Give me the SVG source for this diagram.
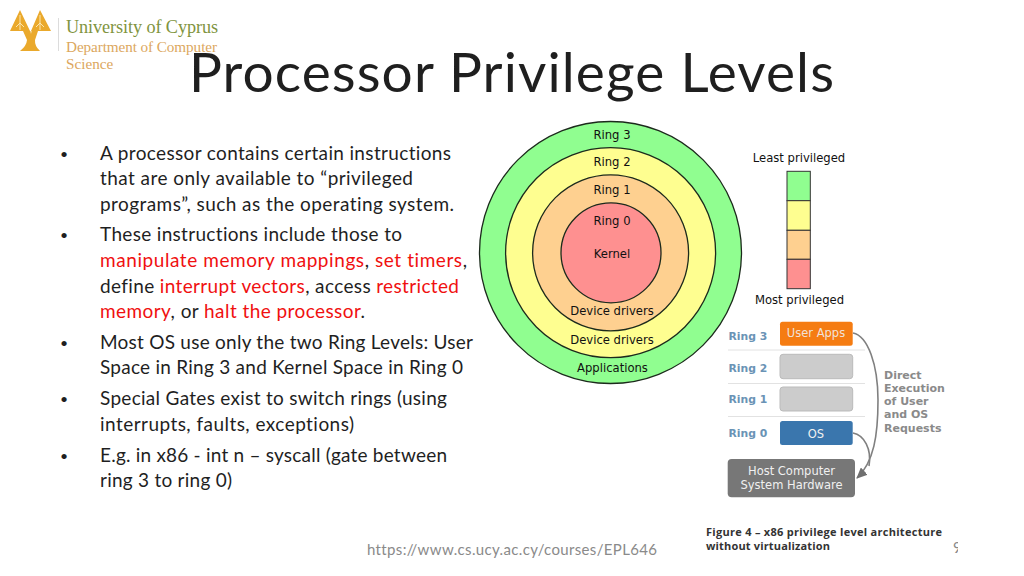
<svg xmlns="http://www.w3.org/2000/svg" width="1024" height="576" viewBox="0 0 1024 576">
<style>
.t{font-family:"Lato","Liberation Sans",sans-serif;fill:#1f1f1f;font-variant-ligatures:none}
.b{font-size:19px}
.r{fill:#f01010}
.d{font-family:"DejaVu Sans",sans-serif;fill:#111;font-size:11.6px;text-anchor:middle}
.c{stroke:#1c2a1c;stroke-width:1.3}
.k{stroke:#333;stroke-width:1}
.ring{font-family:"DejaVu Sans",sans-serif;font-weight:700;font-size:10.8px;fill:#6a93b5}
.line{stroke:#e2e2e2;stroke-width:1}
.w{font-family:"DejaVu Sans",sans-serif;font-size:11.5px;fill:#f0f0f0;text-anchor:middle}
.g{font-family:"DejaVu Sans",sans-serif;font-weight:700;font-size:11px;fill:#8a8a8a}
.cap{font-family:"Open Sans",sans-serif;font-weight:700;font-size:11px;fill:#333}
.arr{fill:none;stroke:#808080;stroke-width:1.6}
</style>
<defs>
<marker id="ah" markerWidth="12" markerHeight="10" refX="10" refY="5" orient="auto" markerUnits="userSpaceOnUse"><path d="M0,0L11,5L0,10Z" fill="#6f6f6f"/></marker>
<clipPath id="nine"><rect x="950" y="535" width="8" height="25"/></clipPath>
</defs>
<rect width="1024" height="576" fill="#fff"/>
<g id="logo">
<path d="M20,10L30,31H10ZM40,10L51,31H31Z" fill="#eaa92c"/>
<path d="M23,31H30.500L31,34L31.500,31H38L35,40Q34.500,46 40,51H20Q26.500,46 27,40Z" fill="#eaa92c"/>
<path d="M20,15V30M40,15V30M20,23L16,27M20,23L24,27M40,23L36,27M40,23L44,27" stroke="#fbe6b0" stroke-width="1" fill="none"/>
<line x1="58.500" y1="18" x2="58.500" y2="51" stroke="#dcdcdc"/>
<text x="66" y="33" font-family="Liberation Serif,serif" font-size="18.200px" textLength="152" fill="#7f9440">University of Cyprus</text>
<text x="66" y="52" font-family="Liberation Serif,serif" font-size="15.200px" textLength="151" fill="#dca75e">Department of Computer</text>
<text x="66" y="69" font-family="Liberation Serif,serif" font-size="15.200px" fill="#dca75e">Science</text>
</g>
<text class="t" x="189" y="92" font-size="55px" textLength="645" fill="#111">Processor Privilege Levels</text>
<g id="bullets" class="t b">
<text x="60" y="159" style="font-size:14px">•</text><text x="60" y="240" style="font-size:14px">•</text><text x="60" y="348" style="font-size:14px">•</text><text x="60" y="404" style="font-size:14px">•</text><text x="60" y="461" style="font-size:14px">•</text>
<text x="100" y="160" textLength="351">A processor contains certain instructions</text>
<text x="100" y="185" textLength="313">that are only available to “privileged</text>
<text x="100" y="211" textLength="354">programs”, such as the operating system.</text>
<text x="100" y="241" textLength="302">These instructions include those to</text>
<text x="100" y="267" textLength="367"><tspan class="r">manipulate memory mappings</tspan>, <tspan class="r">set timers</tspan>,</text>
<text x="100" y="293" textLength="359">define <tspan class="r">interrupt vectors</tspan>, access <tspan class="r">restricted</tspan></text>
<text x="100" y="318" textLength="265"><tspan class="r">memory</tspan>, or <tspan class="r">halt the processor</tspan>.</text>
<text x="100" y="349" textLength="373">Most OS use only the two Ring Levels: User</text>
<text x="100" y="374" textLength="363">Space in Ring 3 and Kernel Space in Ring 0</text>
<text x="100" y="405" textLength="347">Special Gates exist to switch rings (using</text>
<text x="100" y="431" textLength="254">interrupts, faults, exceptions)</text>
<text x="100" y="462" textLength="347">E.g. in x86 - int n – syscall (gate between</text>
<text x="100" y="487" textLength="132">ring 3 to ring 0)</text>
</g>
<g id="ring3"><circle class="c" cx="610.500" cy="252.500" r="131" fill="#90fe90"/><text class="d" x="612" y="139">Ring 3</text><text class="d" x="612.500" y="372">Applications</text></g>
<g id="ring2"><circle class="c" cx="610.600" cy="252.700" r="105" fill="#fefe90"/><text class="d" x="612" y="166">Ring 2</text><text class="d" x="612" y="344">Device drivers</text></g>
<g id="ring1"><circle class="c" cx="610.600" cy="252.800" r="78" fill="#fed090"/><text class="d" x="612" y="194">Ring 1</text><text class="d" x="612" y="315">Device drivers</text></g>
<g id="ring0"><circle class="c" cx="611" cy="252.800" r="50" fill="#fe9090"/><text class="d" x="612" y="225">Ring 0</text><text class="d" x="612" y="258">Kernel</text></g>
<g id="legend">
<text class="d" x="799" y="162">Least privileged</text>
<rect class="k" x="787" y="171.300" width="23.300" height="29.400" fill="#90fe90"/>
<rect class="k" x="787" y="200.700" width="23.300" height="29.600" fill="#fefe90"/>
<rect class="k" x="787" y="230.300" width="23.300" height="29" fill="#fed090"/>
<rect class="k" x="787" y="259.300" width="23.300" height="29.400" fill="#fe9090"/>
<text class="d" x="799.500" y="304">Most privileged</text>
</g>
<g id="rows">
<line class="line" x1="728" y1="350" x2="865" y2="350"/><line class="line" x1="728" y1="383.500" x2="865" y2="383.500"/><line class="line" x1="728" y1="416.500" x2="865" y2="416.500"/>
<text class="ring" x="728.500" y="340">Ring 3</text><text class="ring" x="728.500" y="372">Ring 2</text><text class="ring" x="728.500" y="403">Ring 1</text><text class="ring" x="728.500" y="437">Ring 0</text>
</g>
<g id="user-apps"><rect x="780" y="321.700" width="72.700" height="24" rx="2.500" fill="#f57c12"/><text class="w" x="816" y="337" fill-opacity=".9">User Apps</text></g>
<g id="gray-2"><rect x="780" y="354.300" width="72.700" height="24.400" rx="3" fill="#cccccc" stroke="#bbb"/></g>
<g id="gray-1"><rect x="780" y="387" width="72.700" height="24" rx="3" fill="#cccccc" stroke="#bbb"/></g>
<g id="os"><rect x="780" y="421" width="72.700" height="24" rx="2.500" fill="#3a76ad"/><text class="w" x="816" y="437.500">OS</text></g>
<g id="host"><rect x="727.700" y="459" width="127.300" height="38.300" rx="4" fill="#777"/><text class="w" x="791.500" y="475">Host Computer</text><text class="w" x="791.500" y="489">System Hardware</text></g>
<g id="connectors">
<path class="arr" d="M853,333C868,336 878,365 878,400C878,435 874,462 857,478" marker-end="url(#ah)"/>
<path class="arr" d="M853,433C864,435 872,449 869,466"/>
</g>
<g id="direct" class="g"><text x="884" y="379">Direct</text><text x="884" y="392">Execution</text><text x="884" y="405">of User</text><text x="884" y="418">and OS</text><text x="884" y="432">Requests</text></g>
<text class="cap" x="706" y="536" textLength="236">Figure 4 – x86 privilege level architecture</text>
<text class="cap" x="706" y="550" textLength="124">without virtualization</text>
<text class="t" x="367" y="555" font-size="15px" style="fill:#8a8a8a" textLength="290">https://www.cs.ucy.ac.cy/courses/EPL646</text>
<text class="t" x="953" y="553" font-size="15px" style="fill:#8a8a8a" clip-path="url(#nine)">9</text>
</svg>
